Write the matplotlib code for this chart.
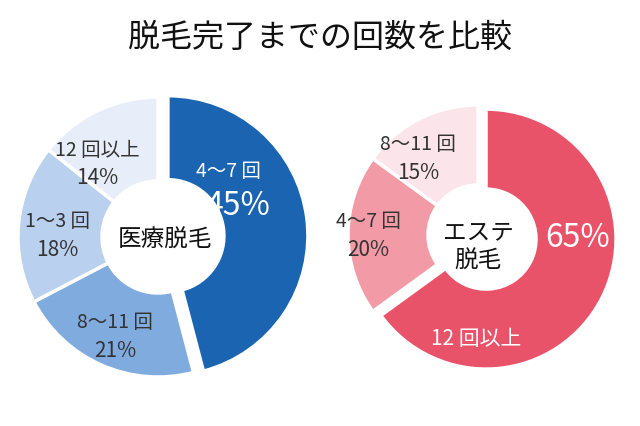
import matplotlib
matplotlib.use("Agg")
import matplotlib.pyplot as plt

plt.rcParams["font.family"] = "Noto Sans CJK JP"

title = "脱毛完了までの回数を比較"
left_labels = ["4～7 回", "8～11 回", "1～3 回", "12 回以上"]
left_values = [45, 21, 18, 14]
right_labels = ["12 回以上", "4～7 回", "8～11 回"]
right_values = [65, 20, 15]

left_colors = ["#1b64b2", "#80abde", "#b9d0ee", "#e8eef9"]
right_colors = ["#e8536a", "#f29ba6", "#fbe4ea"]

fig = plt.figure(figsize=(6.4, 4.27), dpi=100)
ax = fig.add_axes([0, 0, 1, 1])

def Y(py):
    return 427 - py

ax.pie(left_values, colors=left_colors, startangle=90, counterclock=False,
       center=(158, Y(238)), radius=140, explode=[10, 0, 0, 0], normalize=True,
       wedgeprops=dict(width=84, edgecolor="white", linewidth=2.5), frame=True)
ax.pie(right_values, colors=right_colors, startangle=90, counterclock=False,
       center=(478, Y(236)), radius=130, explode=[9, 0, 0], normalize=True,
       wedgeprops=dict(width=80, edgecolor="white", linewidth=2.5), frame=True)
ax.set_xlim(0, 640)
ax.set_ylim(0, 427)
ax.set_aspect("equal")
ax.axis("off")

ax.text(320, Y(38), title, ha="center", va="center", fontsize=23, color="#111")

dark = "#333333"
def lab(x, y, s1, s2, c, big=False):
    ax.text(x, Y(y), s1, ha="center", va="center", fontsize=14, color=c)
    ax.text(x + (10 if big else 0), Y(y + (34 if big else 28)), s2, ha="center", va="center",
            fontsize=23 if big else 15, color=c)

lab(228, 172, left_labels[0], f"{left_values[0]}%", "white", big=True)
lab(115, 323, left_labels[1], f"{left_values[1]}%", dark)
lab(57, 222, left_labels[2], f"{left_values[2]}%", dark)
lab(97, 150, left_labels[3], f"{left_values[3]}%", dark)
ax.text(165, Y(240), "医療脱毛", ha="center", va="center", fontsize=17, color="#111")

ax.text(578, Y(238), f"{right_values[0]}%", ha="center", va="center", fontsize=23, color="white")
ax.text(476, Y(339), right_labels[0], ha="center", va="center", fontsize=15, color="white")
lab(368, 222, right_labels[1], f"{right_values[1]}%", dark)
lab(418, 145, right_labels[2], f"{right_values[2]}%", dark)
ax.text(478, Y(247), "エステ\n脱毛", ha="center", va="center", fontsize=17, color="#111",
        linespacing=1.3)

fig.savefig("out.png", dpi=100, facecolor="white")
